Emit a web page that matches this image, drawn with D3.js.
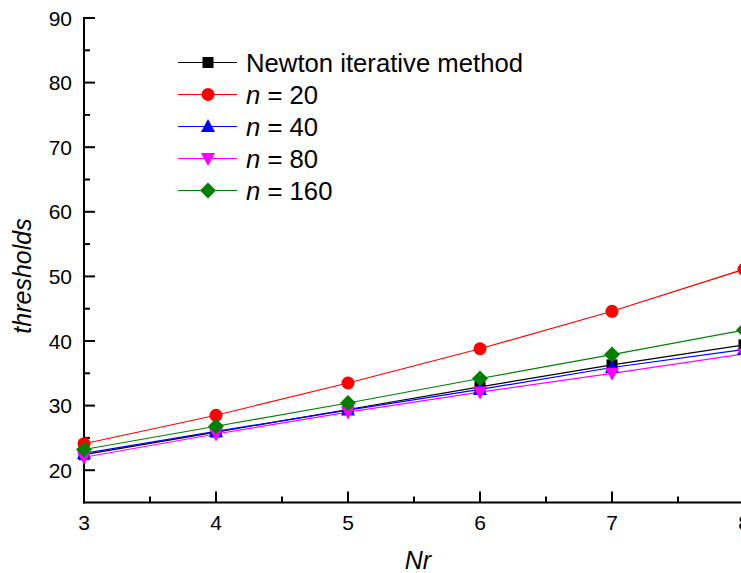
<!DOCTYPE html>
<html><head><meta charset="utf-8">
<script src="https://cdnjs.cloudflare.com/ajax/libs/d3/7.8.5/d3.min.js"></script>
<style>body{margin:0;background:#fff}svg{display:block;font-family:"Liberation Sans",Arial,sans-serif}</style>
</head><body>
<svg id="c" width="741" height="573"></svg>
<script>
const nr = [3, 4, 5, 6, 7, 8];
const newton = [22.4, 25.9, 29.4, 32.9, 36.3, 39.4];
const n20 = [24.1, 28.5, 33.5, 38.8, 44.6, 51.1];
const n40 = [22.6, 26.0, 29.3, 32.5, 35.9, 38.7];
const n80 = [22.0, 25.6, 29.0, 32.1, 35.0, 38.0];
const n160 = [23.2, 26.8, 30.4, 34.2, 37.9, 41.7];
const seriesNames = ["Newton iterative method", "n = 20", "n = 40", "n = 80", "n = 160"];
const xTicks = [3, 4, 5, 6, 7, 8];
const yTicks = [20, 30, 40, 50, 60, 70, 80, 90];

const series = [
  {name: seriesNames[0], vals: newton, color: "#000000", sym: "square"},
  {name: seriesNames[1], vals: n20, color: "#ff0000", sym: "circle"},
  {name: seriesNames[2], vals: n40, color: "#0000ff", sym: "up"},
  {name: seriesNames[3], vals: n80, color: "#ff00ff", sym: "down"},
  {name: seriesNames[4], vals: n160, color: "#008000", sym: "diamond"}
];

const svg = d3.select("#c");
const x = d3.scaleLinear().domain([3, 8]).range([84, 744]);
const y = d3.scaleLinear().domain([15, 90]).range([502.5, 18]);

function marker(g, sym, color) {
  if (sym === "square") g.append("rect").attr("x", -5.5).attr("y", -5.5).attr("width", 11).attr("height", 11).attr("fill", color);
  else if (sym === "circle") g.append("circle").attr("r", 6.5).attr("fill", color);
  else if (sym === "up") g.append("path").attr("d", "M0,-7.5L7,5.5L-7,5.5Z").attr("fill", color);
  else if (sym === "down") g.append("path").attr("d", "M0,7.5L7,-5.5L-7,-5.5Z").attr("fill", color);
  else if (sym === "diamond") g.append("path").attr("d", "M0,-8L8,0L0,8L-8,0Z").attr("fill", color);
}

// axes
const xMinor = d3.range(3.5, 8, 1);
const yMinor = d3.range(25, 90, 10);
const ax = svg.append("g").attr("stroke", "#000").attr("stroke-width", 2);
ax.append("line").attr("x1", 83).attr("x2", 744).attr("y1", y(15)).attr("y2", y(15));
ax.append("line").attr("x1", 84).attr("x2", 84).attr("y1", y(15) + 1).attr("y2", y(90) - 1);
xTicks.forEach(t => ax.append("line").attr("x1", x(t)).attr("x2", x(t)).attr("y1", y(15)).attr("y2", y(15) - 11));
xMinor.forEach(t => ax.append("line").attr("x1", x(t)).attr("x2", x(t)).attr("y1", y(15)).attr("y2", y(15) - 6));
yTicks.forEach(t => ax.append("line").attr("x1", 84).attr("x2", 95).attr("y1", y(t)).attr("y2", y(t)));
yMinor.forEach(t => ax.append("line").attr("x1", 84).attr("x2", 90).attr("y1", y(t)).attr("y2", y(t)));

svg.append("g").selectAll("text").data(xTicks).join("text")
  .attr("x", d => x(d)).attr("y", 530).attr("text-anchor", "middle")
  .attr("font-size", 21).text(d => d);
svg.append("g").selectAll("text").data(yTicks).join("text")
  .attr("x", 72).attr("y", d => y(d) + 7.5).attr("text-anchor", "end")
  .attr("font-size", 21).text(d => d);

svg.append("text").attr("x", 418).attr("y", 569).attr("text-anchor", "middle")
  .attr("font-size", 25).attr("font-style", "italic").text("Nr");
svg.append("text").attr("transform", "translate(31,276) rotate(-90)").attr("text-anchor", "middle")
  .attr("font-size", 25).attr("font-style", "italic").text("thresholds");

// series
const line = d3.line().x((d, i) => x(nr[i])).y(d => y(d));
series.forEach(s => {
  svg.append("path").attr("d", line(s.vals)).attr("fill", "none").attr("stroke", s.color).attr("stroke-width", 1.2);
});
series.forEach(s => {
  s.vals.forEach((v, i) => {
    const g = svg.append("g").attr("transform", `translate(${x(nr[i])},${y(v)})`);
    marker(g, s.sym, s.color);
  });
});

// legend
const lg = svg.append("g");
series.forEach((s, i) => {
  const yy = 62.5 + i * 32;
  lg.append("line").attr("x1", 178).attr("x2", 237).attr("y1", yy).attr("y2", yy).attr("stroke", s.color).attr("stroke-width", 1.2);
  const g = lg.append("g").attr("transform", `translate(208,${yy})`);
  marker(g, s.sym, s.color);
  const t = lg.append("text").attr("x", 246).attr("y", yy + 9).attr("font-size", 25.7);
  if (i === 0) t.text(s.name);
  else {
    const parts = s.name.split(" = ");
    t.append("tspan").attr("font-style", "italic").text(parts[0]);
    t.append("tspan").text(" = " + parts[1]);
  }
});
</script>
</body></html>
